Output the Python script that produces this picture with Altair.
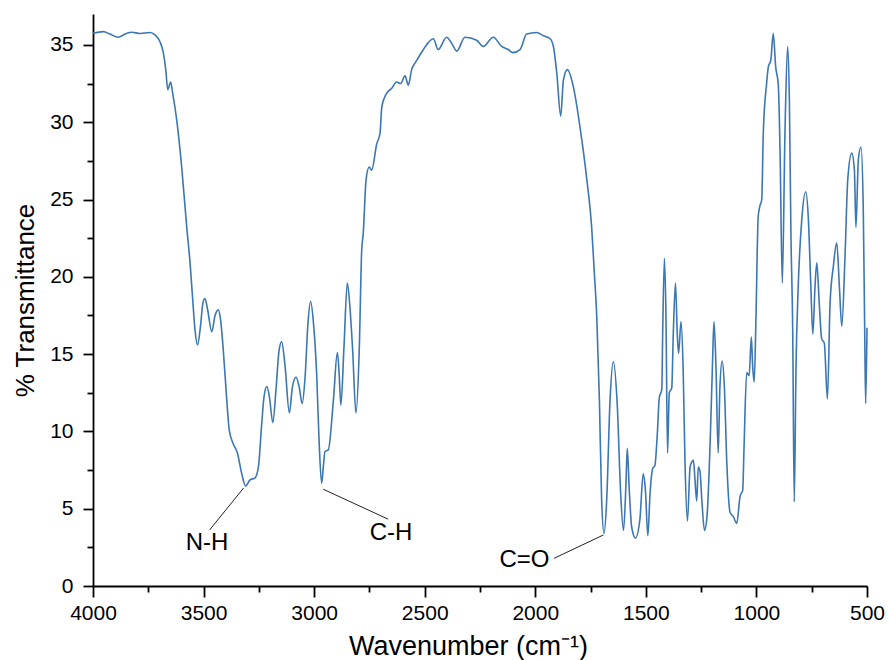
import altair as alt
import pandas as pd

# Wavenumber (cm-1) and % transmittance
wavenumber = [4000, 3953, 3923, 3886, 3855, 3825, 3787, 3742, 3720, 3697, 3682, 3671, 3662, 3649, 3640,
              3621, 3599, 3576, 3561, 3549, 3539, 3527, 3514, 3503, 3494, 3482, 3463, 3448, 3433, 3423,
              3411, 3395, 3384, 3366, 3347, 3328, 3310, 3290, 3267, 3252, 3237, 3227, 3214, 3202, 3187,
              3172, 3159, 3147, 3132, 3112, 3098, 3082, 3068, 3054, 3041, 3028, 3016, 3003, 2988, 2978,
              2966, 2958, 2951, 2936, 2913, 2895, 2888, 2879, 2865, 2850, 2838, 2826, 2811, 2796, 2785,
              2778, 2765, 2751, 2740, 2717, 2702, 2694, 2675, 2649, 2627, 2609, 2589, 2574, 2559, 2536,
              2506, 2484, 2461, 2439, 2401, 2378, 2355, 2318, 2265, 2235, 2190, 2152, 2122, 2102, 2069,
              2039, 1994, 1964, 1933, 1918, 1903, 1885, 1873, 1855, 1828, 1798, 1767, 1745, 1734, 1722,
              1710, 1700, 1689, 1677, 1662, 1647, 1629, 1614, 1601, 1590, 1584, 1575, 1564, 1547, 1527,
              1512, 1502, 1491, 1481, 1469, 1459, 1448, 1439, 1428, 1424, 1416, 1409, 1402, 1394, 1383,
              1376, 1366, 1358, 1352, 1341, 1331, 1323, 1312, 1300, 1293, 1285, 1278, 1270, 1263, 1255,
              1247, 1235, 1223, 1208, 1199, 1192, 1183, 1173, 1165, 1155, 1145, 1134, 1119, 1105, 1089,
              1074, 1062, 1056, 1044, 1033, 1023, 1017, 1010, 1002, 992, 984, 976, 969, 954, 946,
              935, 924, 913, 901, 893, 883, 871, 859, 851, 844, 836, 829, 821, 811, 795,
              777, 765, 754, 745, 735, 727, 716, 705, 693, 679, 667, 652, 637, 625, 614,
              599, 587, 569, 557, 550, 539, 527, 517, 510, 506, 500]
transmittance = [35.75, 35.86, 35.7, 35.5, 35.7, 35.82, 35.74, 35.8, 35.65, 35.2, 34.5, 33.4, 32.1, 32.6, 31.9,
                 30.1, 27.1, 23.2, 20.9, 18.5, 16.6, 15.6, 16.8, 18.3, 18.6, 17.9, 16.45, 17.5, 17.86, 17.2,
                 15.3, 12.0, 10.1, 9.2, 8.6, 7.3, 6.47, 6.86, 7.0, 7.7, 10.5, 12.2, 12.9, 12.2, 10.57,
                 12.8, 15.2, 15.8, 14.3, 11.2, 12.9, 13.5, 12.9, 11.8, 13.5, 17.0, 18.4, 17.0, 13.5, 9.5,
                 6.64, 7.8, 8.7, 8.8, 12.0, 15.1, 14.0, 11.7, 15.5, 19.6, 18.0, 15.3, 11.2, 15.3, 21.7,
                 22.8, 26.3, 27.1, 26.9, 28.6, 29.3, 31.0, 31.8, 32.2, 32.6, 32.5, 33.0, 32.4, 33.4, 34.0,
                 34.7, 35.15, 35.4, 34.7, 35.5, 35.1, 34.6, 35.5, 35.3, 34.9, 35.5, 34.9, 34.7, 34.5, 34.7,
                 35.7, 35.8, 35.6, 35.4, 34.9, 33.2, 30.4, 32.7, 33.4, 32.3, 29.7, 26.3, 23.2, 20.5, 17.4,
                 12.0, 5.6, 3.4, 5.6, 12.0, 14.5, 11.6, 6.0, 3.6, 6.6, 8.9, 6.2, 3.8, 3.1, 4.3,
                 7.25, 6.2, 3.25, 6.0, 7.6, 7.8, 9.9, 12.2, 12.7, 16.3, 21.2, 17.4, 8.6, 12.5, 12.8,
                 16.3, 19.6, 16.3, 15.05, 17.1, 13.8, 8.0, 4.2, 7.7, 8.0, 8.15, 6.9, 5.5, 7.7, 7.4,
                 5.6, 3.6, 4.6, 9.9, 14.2, 17.1, 14.2, 8.6, 12.9, 14.55, 12.9, 8.0, 4.75, 4.5, 4.05,
                 5.8, 6.2, 9.0, 13.8, 13.6, 16.1, 14.2, 13.2, 17.4, 23.9, 24.6, 25.0, 29.3, 32.5, 33.6,
                 34.0, 35.75, 33.6, 32.4, 28.0, 19.6, 29.3, 34.9, 31.4, 22.8, 16.6, 5.45, 14.2, 19.4, 23.7,
                 25.5, 23.7, 19.4, 16.3, 19.4, 20.9, 18.3, 16.0, 15.7, 12.1, 18.3, 20.7, 22.2, 19.4, 16.8,
                 21.5, 26.3, 28.0, 26.9, 23.2, 27.6, 28.4, 24.5, 16.0, 11.8, 16.7]

# Band annotations: label, label position, leader line from the band to the label
ann_label = ["N-H", "C-H", "C=O"]
ann_text_wn = [3484, 2652, 2049]
ann_text_t = [2.75, 3.4, 1.68]
ann_band_wn = [3319, 2959, 1692]
ann_band_t = [6.34, 6.26, 3.3]
ann_end_wn = [3473, 2665, 1915]
ann_end_t = [3.62, 4.32, 1.79]

x_major = [4000, 3500, 3000, 2500, 2000, 1500, 1000, 500]
x_minor = [3750, 3250, 2750, 2250, 1750, 1250, 750]
y_major = [0, 5, 10, 15, 20, 25, 30, 35]
y_minor = [2.5, 7.5, 12.5, 17.5, 22.5, 27.5, 32.5]

spec = pd.DataFrame({"wn": wavenumber, "t": transmittance})
ann = pd.DataFrame({"label": ann_label, "tx": ann_text_wn, "ty": ann_text_t,
                    "bx": ann_band_wn, "by": ann_band_t, "ex": ann_end_wn, "ey": ann_end_t})

FONT = "Liberation Sans"
xs = alt.Scale(domain=[500, 4000], reverse=True, nice=False, zero=False)
ys = alt.Scale(domain=[0, 37], nice=False, zero=True)

x_axis_major = alt.Axis(values=x_major, format="d", orient="bottom", grid=False,
                        tickSize=11, tickWidth=1.8, tickColor="black",
                        domainColor="black", domainWidth=1.8, labelFlush=False, labelOverlap=False,
                        labelFont=FONT, labelFontSize=21, labelColor="black", labelPadding=5,
                        title="Wavenumber (cm⁻¹)", titleFont=FONT, titleFontSize=27,
                        titleFontWeight="normal", titleColor="black",
                        titleX=375, titleY=68, titleBaseline="alphabetic", titleAlign="center")
x_axis_minor = alt.Axis(values=x_minor, orient="bottom", grid=False, labels=False,
                        tickSize=6, tickWidth=1.8, tickColor="black", domain=False, title=None)
y_axis_major = alt.Axis(values=y_major, format="d", orient="left", grid=False,
                        tickSize=10, tickWidth=1.8, tickColor="black",
                        domainColor="black", domainWidth=1.8, labelFlush=False, labelOverlap=False,
                        labelFont=FONT, labelFontSize=21, labelColor="black", labelPadding=10,
                        title="% Transmittance", titleFont=FONT, titleFontSize=26,
                        titleFontWeight="normal", titleColor="black",
                        titleX=-60, titleY=286, titleAngle=-90, titleBaseline="alphabetic",
                        titleAlign="center")
y_axis_minor = alt.Axis(values=y_minor, orient="left", grid=False, labels=False,
                        tickSize=6, tickWidth=1.8, tickColor="black", domain=False, title=None)

line = alt.Chart(spec).mark_line(color="#3b77b2", strokeWidth=1.6, interpolate="monotone").encode(
    x=alt.X("wn:Q", scale=xs, axis=x_axis_major),
    y=alt.Y("t:Q", scale=ys, axis=y_axis_major),
    order=alt.Order("wn:Q", sort="descending"),
)
minor = alt.Chart(spec).mark_line(strokeOpacity=0).encode(
    x=alt.X("wn:Q", scale=xs, axis=x_axis_minor),
    y=alt.Y("t:Q", scale=ys, axis=y_axis_minor),
)
leaders = alt.Chart(ann).mark_rule(color="#222222", strokeWidth=1).encode(
    x=alt.X("bx:Q", scale=xs, axis=None), x2="ex:Q",
    y=alt.Y("by:Q", scale=ys, axis=None), y2="ey:Q",
)
labels = alt.Chart(ann).mark_text(font=FONT, fontSize=24, color="black",
                                  align="center", baseline="middle").encode(
    x=alt.X("tx:Q", scale=xs, axis=None),
    y=alt.Y("ty:Q", scale=ys, axis=None),
    text="label:N",
)

chart = alt.layer(line, minor, leaders, labels).resolve_axis(
    x="independent", y="independent"
).properties(
    width=774, height=572,
    autosize=alt.AutoSizeParams(type="none"),
    padding={"left": 93, "top": 14, "right": 22, "bottom": 74},
    background="white",
).configure_view(stroke=None)

chart.save("out.html", embed_options={"renderer": "svg", "actions": False})
